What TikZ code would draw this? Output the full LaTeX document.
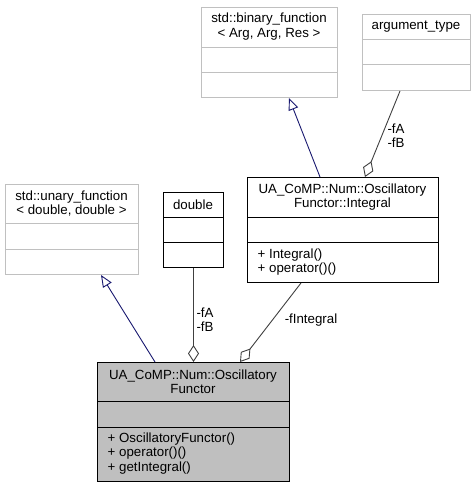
\documentclass[tikz,border=0pt]{standalone}
\usepackage{fontspec}
\setmainfont{Liberation Sans}
\usetikzlibrary{arrows.meta}
\definecolor{edgegray}{HTML}{404040}
\definecolor{inhblue}{HTML}{191970}
\definecolor{boxgray}{HTML}{BFBFBF}
\definecolor{stdgray}{HTML}{C0C0C0}
\begin{document}
\begin{tikzpicture}[x=1pt,y=-1pt,font=\fontsize{13.3}{14.3}\selectfont,
  cls/.style={draw=black,line width=1pt,anchor=north west,inner sep=0pt},
  stdcls/.style={cls,draw=stdgray},
  title/.style={align=center,inner sep=0pt},
  methods/.style={align=left,anchor=west,inner sep=0pt},
  inh/.style={draw=inhblue,line width=0.9pt,-{Triangle[open,length=12pt,width=10pt,fill=white]}},
  comp/.style={draw=edgegray,line width=0.9pt,{Diamond[open,length=17pt,width=11pt,fill=white]}-},
  elabel/.style={align=center,inner sep=0pt}]
\useasboundingbox (0,0) rectangle (475,488);
\fill[white] (0,0) rectangle (475,488);

% std::binary_function
\node[stdcls,minimum width=136pt,minimum height=90pt] (bin) at (201,7) {};
\node[title] (bint) at (269,26.5) {std::binary\_function\\< Arg, Arg, Res >};
\draw[stdgray,line width=1pt] (bin.west |- 0,47) -- (bin.east |- 0,47);
\draw[stdgray,line width=1pt] (bin.west |- 0,72) -- (bin.east |- 0,72);

% argument_type
\node[stdcls,minimum width=108pt,minimum height=76pt] (arg) at (362,14) {};
\node[title] (argt) at (416,26.5) {argument\_type};
\draw[stdgray,line width=1pt] (arg.west |- 0,39) -- (arg.east |- 0,39);
\draw[stdgray,line width=1pt] (arg.west |- 0,64) -- (arg.east |- 0,64);

% std::unary_function
\node[stdcls,minimum width=133pt,minimum height=90pt] (una) at (5,184) {};
\node[title] (unat) at (71.5,203.5) {std::unary\_function\\< double, double >};
\draw[stdgray,line width=1pt] (una.west |- 0,223.5) -- (una.east |- 0,223.5);
\draw[stdgray,line width=1pt] (una.west |- 0,249) -- (una.east |- 0,249);

% double
\node[cls,minimum width=60pt,minimum height=75pt] (dbl) at (163,192) {};
\node[title] (dblt) at (193,204.5) {double};
\draw[line width=1pt] (dbl.west |- 0,217) -- (dbl.east |- 0,217);
\draw[line width=1pt] (dbl.west |- 0,242) -- (dbl.east |- 0,242);

% Integral
\node[cls,minimum width=191pt,minimum height=105pt] (int) at (247,177) {};
\node[title] (intt) at (342.5,197) {UA\_CoMP::Num::Oscillatory\\Functor::Integral};
\draw[line width=1pt] (int.west |- 0,217) -- (int.east |- 0,217);
\draw[line width=1pt] (int.west |- 0,242) -- (int.east |- 0,242);
\node[methods] (intm) at ([xshift=10.5pt]int.west |- 0,262) {+ Integral()\\+ operator()()};

% OscillatoryFunctor
\node[cls,fill=boxgray,minimum width=192pt,minimum height=119pt] (of) at (97,362) {};
\node[title] (oft) at (193,381.5) {UA\_CoMP::Num::Oscillatory\\Functor};
\draw[line width=1pt] (of.west |- 0,401) -- (of.east |- 0,401);
\draw[line width=1pt] (of.west |- 0,427) -- (of.east |- 0,427);
\node[methods] (ofm) at ([xshift=10.5pt]of.west |- 0,453.5) {+ OscillatoryFunctor()\\+ operator()()\\+ getIntegral()};

% inheritance
\draw[inh] ([xshift=58pt]of.north west) -- ([xshift=96pt]una.south west);
\draw[inh] ([xshift=73pt]int.north west) -- ([xshift=88pt]bin.south west);

% composition
\draw[comp] (of.north -| dbl.south) -- (dbl.south);
\node[elabel] (lbl1) at (205,320) {-fA\\-fB};
\draw[comp] ([xshift=118pt]int.north west) -- ([xshift=38pt]arg.south west);
\node[elabel] (lbl2) at (396,136) {-fA\\-fB};
\draw[comp] ([xshift=143pt]of.north west) -- ([xshift=54pt]int.south west);
\node[elabel] (lbl3) at (311,320.5) {-fIntegral};
\end{tikzpicture}
\end{document}
